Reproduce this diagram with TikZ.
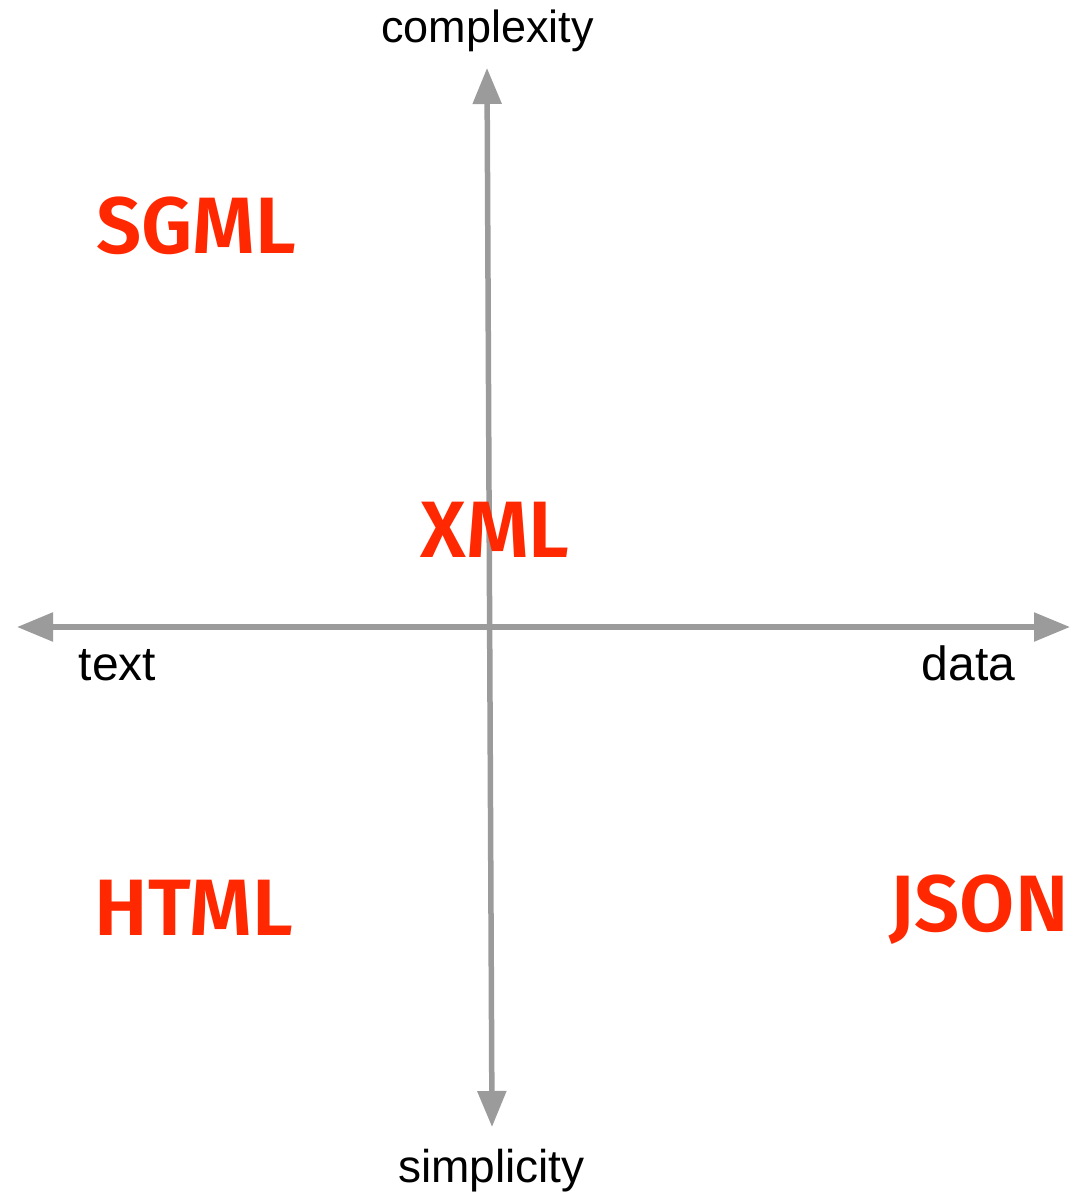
\documentclass[tikz,border=0pt]{standalone}
\usepackage{fontspec}
\setmainfont{Liberation Sans}
\newfontfamily\markupfont[BoldFont={Fira Sans SemiBold}]{Fira Sans}
\usetikzlibrary{arrows.meta}
\definecolor{axisgray}{RGB}{155,155,155}
\definecolor{langred}{RGB}{255,40,0}
\tikzset{
  axis/.style={draw=axisgray, line width=5.5pt,
    {Triangle[length=36pt,width=28pt]}-{Triangle[length=36pt,width=28pt]}},
  axislabel/.style={inner sep=0pt, anchor=base, font=\fontsize{45}{50}\selectfont},
  lang/.style={inner sep=0pt, anchor=base, text=langred,
    font=\markupfont\bfseries\fontsize{80}{90}\selectfont}
}
\begin{document}
\begin{tikzpicture}[x=1pt,y=-1pt]
\useasboundingbox (0,0) rectangle (1073,1193);
% axis end points
\coordinate (top) at (487,68);
\coordinate (bottom) at (492,1127);
\coordinate (left) at (17,627);
\coordinate (right) at (1070,627);
\draw[axis] (left) -- (right);
\draw[axis] (bottom) -- (top);
% axis labels
\node[axislabel] (complexity) at (487.5,43) {complexity};
\node[axislabel, font=\fontsize{46}{50}\selectfont] (simplicity) at (491.5,1182) {simplicity};
\node[axislabel, font=\fontsize{48}{50}\selectfont] (text) at (117.5,680) {text};
\node[axislabel, font=\fontsize{48}{50}\selectfont] (data) at (968.5,680) {data};
% markup languages
\node[lang] (sgml) at (196,253) {SGML};
\node[lang] (xml) at (495,557) {XML};
\node[lang] (html) at (194,935) {HTML};
\node[lang] (json) at (979,931) {JSON};
\end{tikzpicture}
\end{document}
